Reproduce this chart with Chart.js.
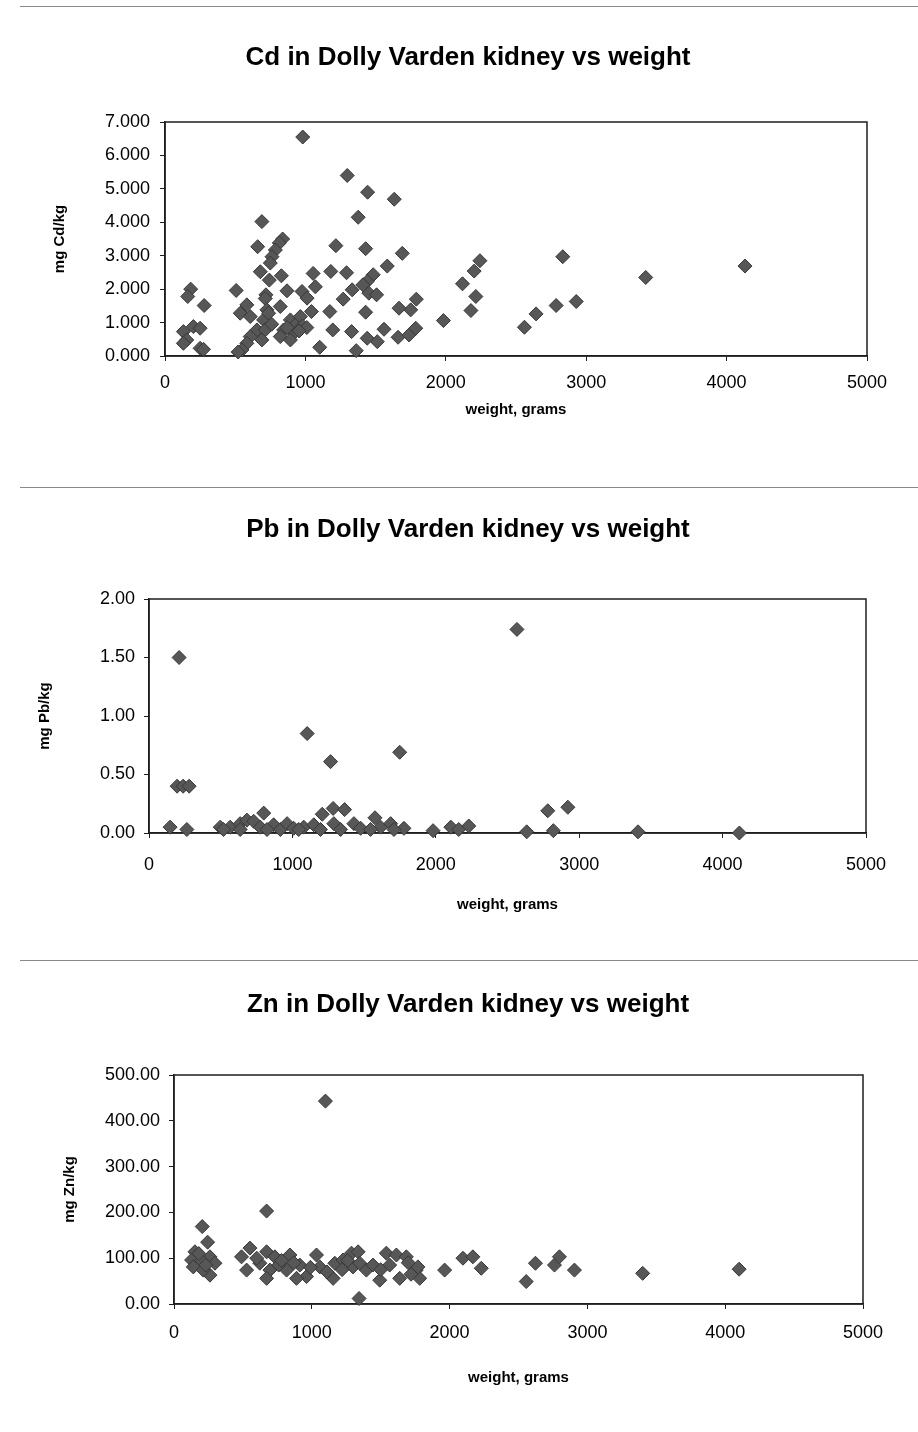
<!DOCTYPE html>
<html>
<head>
<meta charset="utf-8">
<script src="https://cdn.jsdelivr.net/npm/chart.js@4.4.1/dist/chart.umd.min.js"></script>
<style>
  body { margin: 0; background: #fff; width: 918px; height: 1432px; position: relative; overflow: hidden; }
  canvas { position: absolute; left: 0; }
  .rule { position: absolute; height: 0; border-top: 1px solid #8a8a8a; }
</style>
</head>
<body>
<div class="rule" style="top:6px; left:20px; width:898px;"></div>
<div class="rule" style="top:487px; left:20px; width:898px;"></div>
<div class="rule" style="top:960px; left:20px; width:898px;"></div>
<canvas id="cdChart" width="918" height="478" style="top:0px"></canvas>
<canvas id="pbChart" width="918" height="478" style="top:478px"></canvas>
<canvas id="znChart" width="918" height="476" style="top:956px"></canvas>
<script>
// weight (g) and kidney concentration (mg/kg)
var cdWeight = [981, 1298, 1443, 1633, 1376, 690, 838, 814, 786, 762, 750, 660, 1217, 1429, 1690, 1583,
    679, 743, 829, 1055, 1071, 1181, 1293, 1483, 1440, 1410, 1452, 1507, 1333, 1269, 869, 976, 1012,
    1043, 507, 719, 183, 162, 279, 1790, 1750, 1667, 1983, 1174, 1429, 536, 583, 607, 714, 726, 702,
    821, 655, 607, 583, 548, 521, 714, 690, 893, 941, 845, 917, 821, 893, 964, 738, 202, 250, 131, 155,
    131, 250, 274, 1195, 1329, 1440, 1512, 1560, 1660, 1738, 1786, 1102, 1362, 2243, 2202, 2119, 2214,
    2179, 2833, 2560, 2643, 2786, 2929, 3424, 4131, 980, 1010, 760, 870, 955];
var cdValue = [6.55, 5.40, 4.90, 4.69, 4.15, 4.02, 3.50, 3.38, 3.17, 2.97, 2.78, 3.27, 3.30, 3.21, 3.07, 2.69,
    2.52, 2.27, 2.40, 2.47, 2.07, 2.53, 2.49, 2.43, 2.23, 2.13, 1.88, 1.83, 1.98, 1.70, 1.95, 1.93, 1.73,
    1.33, 1.96, 1.83, 2.00, 1.78, 1.51, 1.70, 1.38, 1.43, 1.06, 1.33, 1.31, 1.28, 1.53, 1.18, 1.72, 1.38, 1.08,
    1.48, 0.78, 0.58, 0.38, 0.18, 0.12, 0.78, 0.48, 1.08, 0.98, 0.78, 0.68, 0.58, 0.48, 1.18, 1.28, 0.88, 0.83, 0.73, 0.48,
    0.38, 0.23, 0.20, 0.78, 0.73, 0.53, 0.43, 0.80, 0.56, 0.63, 0.83, 0.26, 0.16, 2.85, 2.54, 2.16, 1.78,
    1.36, 2.97, 0.86, 1.26, 1.51, 1.63, 2.35, 2.69, 0.90, 0.85, 0.95, 0.85, 0.75];

var pbWeight = [210, 196, 238, 280, 1103, 1266, 1748, 2566, 147, 264, 800, 1208, 1284, 1364, 1576, 1981,
    2105, 2160, 2230, 2634, 2781, 2921, 2820, 3410, 4117, 497, 566, 636, 683, 730, 776, 869, 916, 963,
    1009, 1079, 1149, 1196, 1289, 1336, 1429, 1476, 1615, 1685, 1778, 520, 636, 823, 1044, 1545, 1708];
var pbValue = [1.50, 0.40, 0.40, 0.40, 0.85, 0.61, 0.69, 1.74, 0.05, 0.03, 0.17, 0.16, 0.21, 0.20, 0.13, 0.02,
    0.05, 0.03, 0.06, 0.01, 0.19, 0.22, 0.02, 0.01, 0.00, 0.05, 0.05, 0.08, 0.11, 0.10, 0.05, 0.07, 0.03, 0.08,
    0.04, 0.05, 0.07, 0.03, 0.08, 0.03, 0.08, 0.04, 0.05, 0.08, 0.04, 0.03, 0.03, 0.03, 0.03, 0.03, 0.03];

var znWeight = [1099, 672, 205, 244, 152, 128, 261, 297, 261, 140, 212, 551, 490, 527, 672, 732, 696, 623,
    672, 841, 817, 913, 962, 889, 1034, 1058, 1167, 1155, 1227, 1288, 1336, 1299, 1348, 1396, 1444, 1493,
    1343, 1541, 1614, 1686, 1565, 1638, 1758, 1783, 1770, 1964, 2097, 2169, 2230, 2556, 2623, 2761, 2797,
    2906, 3401, 4101, 600, 760, 780, 870, 990, 1110, 1220, 1260, 1500, 1700, 1720, 200, 180, 230];
var znValue = [443, 203, 169, 135, 114, 96, 103, 89, 63, 81, 74, 122, 103, 74, 114, 103, 74, 89,
    56, 107, 74, 85, 60, 56, 107, 81, 89, 56, 96, 111, 114, 81, 89, 74, 85, 52,
    12, 111, 107, 103, 85, 56, 74, 56, 81, 74, 100, 103, 78, 49, 89, 85, 103,
    74, 67, 76, 100, 85, 95, 90, 80, 70, 75, 95, 75, 90, 65, 95, 110, 85];

var xTicks = [0, 1000, 2000, 3000, 4000, 5000];
var cdTicks = [0, 1, 2, 3, 4, 5, 6, 7];
var pbTicks = [0, 0.5, 1, 1.5, 2];
var znTicks = [0, 100, 200, 300, 400, 500];

var FONT = "'Liberation Sans', Arial, sans-serif";

var framePlugin = {
    id: "frame",
    beforeDatasetsDraw: function(chart) {
        var a = chart.chartArea;
        var ctx = chart.ctx;
        ctx.save();
        ctx.strokeStyle = "#1e1e1e";
        ctx.lineWidth = 1.5;
        ctx.strokeRect(a.left, a.top, a.right - a.left, a.bottom - a.top);
        ctx.restore();
    },
    afterDraw: function(chart, args, opts) {
        var ctx = chart.ctx;
        ctx.save();
        ctx.fillStyle = "#000";
        ctx.font = "bold 26px " + FONT;
        ctx.textAlign = "center";
        ctx.textBaseline = "middle";
        ctx.fillText(opts.text, opts.x, opts.y);
        ctx.restore();
    }
};

function toPoints(xs, ys) {
    var pts = [];
    for (var i = 0; i < xs.length; i++) {
        pts.push({x: xs[i], y: ys[i]});
    }
    return pts;
}

function makeChart(id, g) {
    var ctx = document.getElementById(id).getContext("2d");
    var h = ctx.canvas.height;
    return new Chart(ctx, {
        type: "scatter",
        data: {
            datasets: [{
                data: toPoints(g.xs, g.ys),
                pointStyle: "rectRot",
                pointRadius: 7,
                pointHoverRadius: 7,
                backgroundColor: "#575757",
                borderColor: "#383838",
                borderWidth: 1,
                clip: false
            }]
        },
        options: {
            responsive: false,
            animation: false,
            layout: {padding: {top: g.plotTop, left: 0, right: 918 - g.plotRight, bottom: 0}},
            plugins: {
                legend: {display: false},
                tooltip: {enabled: false},
                frame: {text: g.title, x: 468, y: g.titleY}
            },
            scales: {
                x: {
                    type: "linear",
                    min: xTicks[0],
                    max: xTicks[xTicks.length - 1],
                    afterFit: function(s) { s.height = h - g.plotBottom; },
                    afterBuildTicks: function(s) { s.ticks = xTicks.map(function(v) { return {value: v}; }); },
                    ticks: {
                        color: "#000",
                        font: {family: FONT, size: 18},
                        padding: g.xPad,
                        maxRotation: 0,
                        callback: function(v) { return String(v); }
                    },
                    grid: {drawOnChartArea: false, drawTicks: true, tickLength: 5, color: "#1e1e1e"},
                    border: {display: true, color: "#1e1e1e", width: 1.5},
                    title: {
                        display: true,
                        text: "weight, grams",
                        color: "#000",
                        font: {family: FONT, size: 15, weight: "bold"},
                        padding: {top: 0, bottom: h - g.xTitleY - 9}
                    }
                },
                y: {
                    type: "linear",
                    min: g.yTicks[0],
                    max: g.yTicks[g.yTicks.length - 1],
                    afterFit: function(s) { s.width = g.plotLeft; },
                    afterBuildTicks: function(s) { s.ticks = g.yTicks.map(function(v) { return {value: v}; }); },
                    ticks: {
                        color: "#000",
                        font: {family: FONT, size: 18},
                        padding: g.yPad,
                        callback: function(v) { return v.toFixed(g.decimals); }
                    },
                    grid: {drawOnChartArea: false, drawTicks: true, tickLength: 5, color: "#1e1e1e"},
                    border: {display: true, color: "#1e1e1e", width: 1.5},
                    title: {
                        display: true,
                        text: g.yLabel,
                        color: "#000",
                        font: {family: FONT, size: 15, weight: "bold"},
                        padding: {top: g.yTitleX - 9, bottom: 0}
                    }
                }
            }
        },
        plugins: [framePlugin]
    });
}

function main() {
    makeChart("cdChart", {
        xs: cdWeight, ys: cdValue, yTicks: cdTicks, decimals: 3,
        title: "Cd in Dolly Varden kidney vs weight", yLabel: "mg Cd/kg",
        plotTop: 122, plotBottom: 356, plotLeft: 165, plotRight: 867,
        titleY: 58, yTitleX: 60, xTitleY: 410, xPad: 11, yPad: 10
    });
    makeChart("pbChart", {
        xs: pbWeight, ys: pbValue, yTicks: pbTicks, decimals: 2,
        title: "Pb in Dolly Varden kidney vs weight", yLabel: "mg Pb/kg",
        plotTop: 121, plotBottom: 355, plotLeft: 149, plotRight: 866,
        titleY: 52, yTitleX: 45, xTitleY: 427, xPad: 16, yPad: 9
    });
    makeChart("znChart", {
        xs: znWeight, ys: znValue, yTicks: znTicks, decimals: 2,
        title: "Zn in Dolly Varden kidney vs weight", yLabel: "mg Zn/kg",
        plotTop: 119, plotBottom: 348, plotLeft: 174, plotRight: 863,
        titleY: 49, yTitleX: 70, xTitleY: 422, xPad: 13, yPad: 9
    });
}

document.addEventListener("DOMContentLoaded", function() {
    main();
});
</script>
</body>
</html>
